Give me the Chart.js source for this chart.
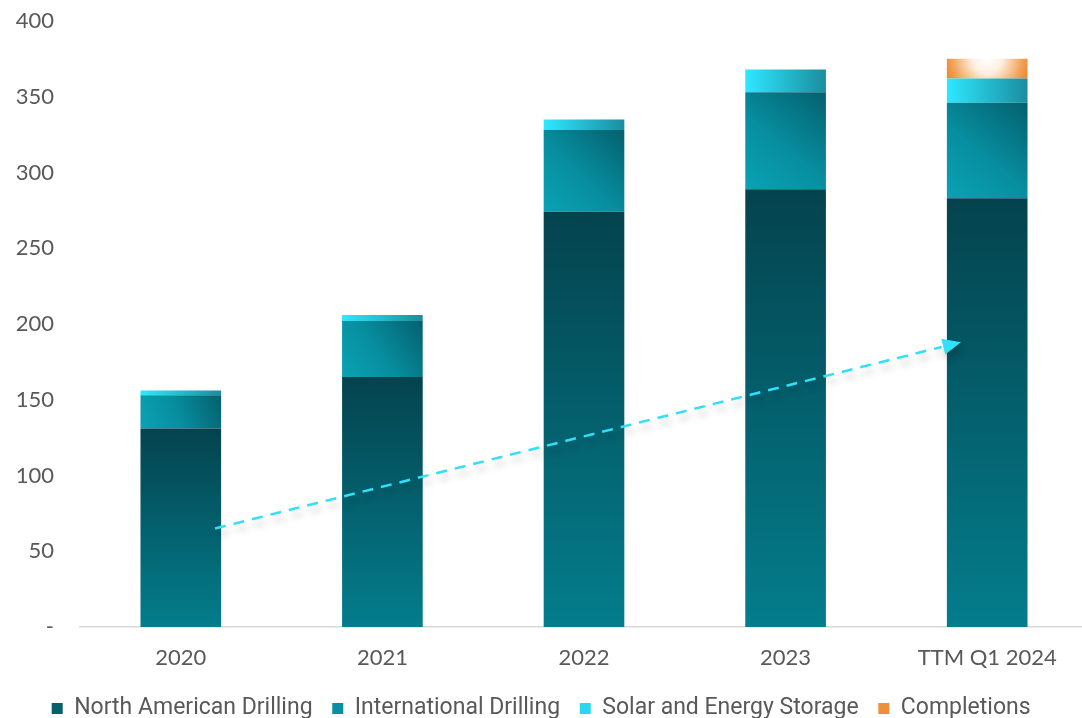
<!DOCTYPE html>
<html>
<head>
<meta charset="utf-8">
<script src="https://cdn.jsdelivr.net/npm/chart.js@4.4.1/dist/chart.umd.min.js"></script>
<style>
  html, body { margin: 0; padding: 0; background: #fff; overflow: hidden; }
  #wrap { width: 1090px; height: 718px; }
</style>
</head>
<body>
<div id="wrap"><canvas id="rigChart"></canvas></div>
<script>
// Data
const periods = ['2020', '2021', '2022', '2023', 'TTM Q1 2024'];
const northAmerican = [131, 165, 274, 289, 283];
const international = [22, 37, 54, 64, 63];
const solarStorage = [3, 4, 7, 15, 16];
const completions = [0, 0, 0, 0, 13];
const yTicks = [0, 50, 100, 150, 200, 250, 300, 350, 400];
// trend arrow: [category position, value]
const trendStart = [0.17, 65];
const trendEnd = [3.87, 188];

const series = [northAmerican, international, solarStorage, completions];

// pixel box of one stacked segment
function segBox(ctx) {
  const chart = ctx.chart;
  const xs = chart.scales.x, ys = chart.scales.y;
  if (!xs || !ys || !chart.chartArea) return null;
  const i = ctx.datasetIndex, j = ctx.dataIndex;
  let base = 0;
  for (let k = 0; k < i; k++) base += series[k][j];
  const top = base + series[i][j];
  const cx = xs.getPixelForValue(j);
  const half = (xs.width / periods.length) * 0.4 / 2;
  return { x0: cx - half, x1: cx + half, y0: ys.getPixelForValue(top), y1: ys.getPixelForValue(base) };
}

function naFill(ctx) {
  const b = segBox(ctx);
  if (!b) return '#055a66';
  const g = ctx.chart.ctx.createLinearGradient(0, b.y0, 0, b.y1);
  g.addColorStop(0, '#04434e');
  g.addColorStop(1, '#047d8c');
  return g;
}
function intlFill(ctx) {
  const b = segBox(ctx);
  if (!b) return '#078a9a';
  const g = ctx.chart.ctx.createLinearGradient(b.x0, b.y1, b.x1, b.y0);
  g.addColorStop(0, '#0aa2b4');
  g.addColorStop(0.45, '#078e9f');
  g.addColorStop(1, '#04606e');
  return g;
}
function solarFill(ctx) {
  const b = segBox(ctx);
  if (!b) return '#2ad8ee';
  const g = ctx.chart.ctx.createLinearGradient(b.x0, 0, b.x1, 0);
  g.addColorStop(0, '#2ee8ff');
  g.addColorStop(1, '#1a8d9f');
  return g;
}
function complFill(ctx) {
  const b = segBox(ctx);
  if (!b) return '#ee8a2e';
  const cx = (b.x0 + b.x1) / 2;
  const g = ctx.chart.ctx.createRadialGradient(cx, b.y0, 0, cx, b.y0, (b.x1 - b.x0) * 0.6);
  g.addColorStop(0, '#ffffff');
  g.addColorStop(0.3, '#fdf0e2');
  g.addColorStop(0.7, '#f2a55c');
  g.addColorStop(1, '#e97a18');
  return g;
}

// dashed trend arrow drawn on top of the bars
const trendArrow = {
  id: 'trendArrow',
  afterDatasetsDraw(chart) {
    const xs = chart.scales.x, ys = chart.scales.y, c = chart.ctx;
    const x0 = xs.getPixelForValue(trendStart[0]), y0 = ys.getPixelForValue(trendStart[1]);
    const x1 = xs.getPixelForValue(trendEnd[0]), y1 = ys.getPixelForValue(trendEnd[1]);
    const ang = Math.atan2(y1 - y0, x1 - x0);
    const head = 20;
    c.save();
    c.shadowColor = 'rgba(0,0,0,0.22)';
    c.shadowBlur = 7;
    c.shadowOffsetX = 3;
    c.shadowOffsetY = 6;
    c.strokeStyle = '#2fe0f6';
    c.lineWidth = 2.5;
    c.setLineDash([11, 8]);
    c.beginPath();
    c.moveTo(x0, y0);
    c.lineTo(x1 - head * Math.cos(ang), y1 - head * Math.sin(ang));
    c.stroke();
    c.setLineDash([]);
    c.fillStyle = '#2fe0f6';
    c.beginPath();
    c.moveTo(x1, y1);
    c.lineTo(x1 - head * Math.cos(ang - 0.42), y1 - head * Math.sin(ang - 0.42));
    c.lineTo(x1 - head * Math.cos(ang + 0.42), y1 - head * Math.sin(ang + 0.42));
    c.closePath();
    c.fill();
    c.restore();
  }
};

const legendColors = ['#05606c', '#07909f', '#2ad8ee', '#ef8f3a'];
const tickFont = { family: 'Lato', size: 22 };

const ctx = document.getElementById('rigChart').getContext('2d');
new Chart(ctx, {
  type: 'bar',
  data: {
    labels: periods,
    datasets: [
      { label: 'North American Drilling', data: northAmerican, backgroundColor: naFill },
      { label: 'International Drilling', data: international, backgroundColor: intlFill },
      { label: 'Solar and Energy Storage', data: solarStorage, backgroundColor: solarFill },
      { label: 'Completions', data: completions, backgroundColor: complFill }
    ]
  },
  options: {
    responsive: true,
    maintainAspectRatio: false,
    animation: false,
    datasets: { bar: { barPercentage: 0.4, categoryPercentage: 1, borderWidth: 0 } },
    layout: { padding: { top: 21, right: 2, left: 0, bottom: -12 } },
    plugins: {
      tooltip: { enabled: false },
      legend: {
        position: 'bottom',
        labels: {
          color: '#595959',
          font: { family: 'Roboto', size: 23, lineHeight: 1 },
          boxWidth: 11,
          boxHeight: 11,
          padding: 14,
          generateLabels: (chart) => chart.data.datasets.map((d, i) => ({
            text: d.label + ' ',
            fillStyle: legendColors[i],
            strokeStyle: legendColors[i],
            lineWidth: 0,
            fontColor: '#595959',
            datasetIndex: i
          }))
        }
      }
    },
    scales: {
      x: {
        stacked: true,
        afterFit: (s) => { s.height = s.height - 6; },
        grid: { display: false, drawTicks: false },
        border: { display: true, color: '#d9d9d9', width: 1.5 },
        ticks: { color: '#595959', font: { family: 'Lato', size: 22, lineHeight: 0.73 }, padding: 23 }
      },
      y: {
        stacked: true,
        min: 0,
        max: 400,
        afterFit: (s) => { s.width = 80; s.paddingTop = 0; s.paddingBottom = 0; },
        afterBuildTicks: (s) => { s.ticks = yTicks.map(v => ({ value: v })); },
        grid: { display: false, drawTicks: false },
        border: { display: false },
        ticks: {
          color: '#595959',
          font: tickFont,
          padding: 26,
          callback: (v) => v === 0 ? '-' : v
        }
      }
    }
  },
  plugins: [trendArrow]
});
</script>
</body>
</html>
